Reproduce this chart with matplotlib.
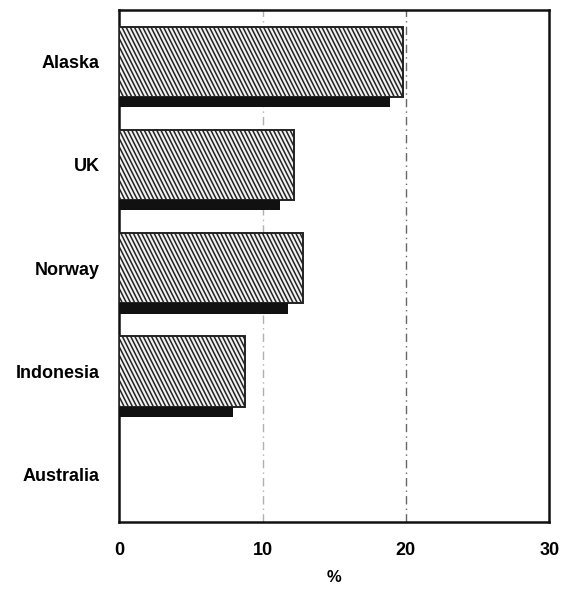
import matplotlib
matplotlib.use("Agg")
import matplotlib.pyplot as plt
import matplotlib.hatch as mhatch
from matplotlib.path import Path
import numpy as np

plt.rcParams['font.family'] = ['Liberation Sans', 'DejaVu Sans']
plt.rcParams['hatch.linewidth'] = 1.1
plt.rcParams['hatch.color'] = '#2a2a2a'


class SteepSouthEastHatch(mhatch.HatchPatternBase):
    """Back-slash hatch drawn steeper than 45 degrees (as in the scanned original)."""
    def __init__(self, hatch, density):
        n = int(hatch.count('\\') * density / 2)
        n = 2 * max(n // 2, 0)
        self.n = n
        if n:
            self.num_lines = int(1.5 * n) + 1
            self.num_vertices = self.num_lines * 2
        else:
            self.num_lines = 0
            self.num_vertices = 0

    def set_vertices_and_codes(self, vertices, codes):
        xs = -0.5 + np.arange(self.num_lines) / self.n
        vertices[0::2, 0] = xs
        vertices[0::2, 1] = 1.0
        vertices[1::2, 0] = xs + 0.5
        vertices[1::2, 1] = 0.0
        codes[0::2] = Path.MOVETO
        codes[1::2] = Path.LINETO


mhatch._hatch_types = [SteepSouthEastHatch if t is mhatch.SouthEastHatch else t
                       for t in mhatch._hatch_types]

categories = ["Alaska", "UK", "Norway", "Indonesia", "Australia"]
series_hatched = [19.8, 12.2, 12.8, 8.8, 0.0]
series_black = [18.9, 11.2, 11.8, 7.9, 0.0]
xticks = [0, 10, 20, 30]

fig = plt.figure(figsize=(5.68, 5.90), dpi=100)
ax = fig.add_axes([0.21, 0.115, 0.757, 0.868])

y = np.arange(len(categories))
h_hatch = 0.68
h_black = 0.10
mask = np.array(series_hatched) > 0
ax.barh(y[mask], np.array(series_hatched)[mask], height=h_hatch, align='center',
        facecolor='#f2f2f2', edgecolor='#222222', hatch='\\' * 8, linewidth=1.4, zorder=3)
ax.barh(y[mask] + h_hatch / 2, np.array(series_black)[mask], height=h_black, align='edge',
        color='#111111', linewidth=0, zorder=3)

for xv in (10, 20):
    ax.axvline(xv, color='#b0b0b0' if xv == 10 else '#666666', linestyle=(0, (6, 3, 1, 3)),
               linewidth=1.0, zorder=1)

ax.set_xlim(0, 30)
ax.set_ylim(4.46, -0.5)
ax.set_xticks(xticks)
ax.set_xticklabels([str(t) for t in xticks], fontsize=13, fontweight='bold')
ax.set_yticks(y)
ax.set_yticklabels(categories, fontsize=13, fontweight='bold')
ax.tick_params(axis='y', length=0, pad=14)
ax.tick_params(axis='x', length=0, pad=14)
for s in ax.spines.values():
    s.set_linewidth(1.8)
    s.set_color('#111111')
ax.set_xlabel('%', fontsize=12, fontweight='bold', labelpad=8)

fig.savefig("out.png", dpi=100)
